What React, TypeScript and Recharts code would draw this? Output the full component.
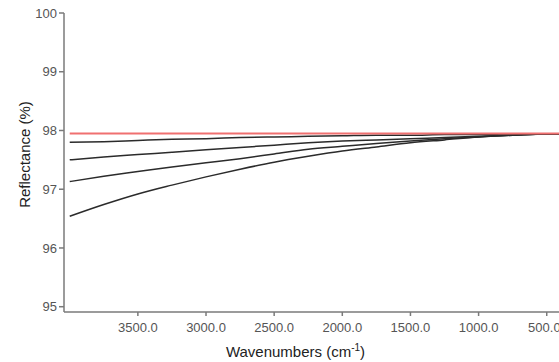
import React from 'react';
import { LineChart, Line, XAxis, YAxis, Label } from 'recharts';

const wavenumbers = [4000, 3750, 3500, 3250, 3000, 2750, 2500, 2250, 2000, 1750, 1500, 1250, 1000, 750, 500, 410];
const reference = [97.95, 97.95, 97.95, 97.95, 97.95, 97.95, 97.95, 97.95, 97.95, 97.95, 97.95, 97.95, 97.95, 97.95, 97.95, 97.95];
const sample1 = [97.8, 97.81, 97.83, 97.85, 97.86, 97.88, 97.89, 97.9, 97.91, 97.92, 97.92, 97.93, 97.93, 97.94, 97.94, 97.94];
const sample2 = [97.5, 97.55, 97.59, 97.63, 97.67, 97.71, 97.75, 97.79, 97.82, 97.84, 97.86, 97.88, 97.9, 97.92, 97.94, 97.94];
const sample3 = [97.13, 97.22, 97.3, 97.38, 97.45, 97.52, 97.6, 97.68, 97.73, 97.78, 97.82, 97.86, 97.89, 97.92, 97.94, 97.94];
const sample4 = [96.54, 96.74, 96.92, 97.07, 97.21, 97.34, 97.46, 97.56, 97.65, 97.72, 97.79, 97.84, 97.89, 97.92, 97.94, 97.94];
const xTicks = [3500, 3000, 2500, 2000, 1500, 1000, 500];
const yTicks = [95, 96, 97, 98, 99, 100];

const data = wavenumbers.map((w, i) => ({
  w,
  r: reference[i],
  s1: sample1[i],
  s2: sample2[i],
  s3: sample3[i],
  s4: sample4[i],
}));

const font = '"Liberation Sans", Arial, sans-serif';

const XLabel = (props: any) => {
  const vb = props.viewBox || {};
  const cx = vb.x + vb.width / 2 - 16;
  return (
    <text x={cx} y={357} textAnchor="middle" fontFamily={font} fontSize={15} fill="#222">
      <tspan>Wavenumbers (cm</tspan>
      <tspan dy={-6} fontSize={10}>-1</tspan>
      <tspan dy={6}>)</tspan>
    </text>
  );
};

export default function App() {
  return (
    <div style={{ position: 'absolute', left: 0, top: 0 }}>
      <LineChart width={559} height={362} data={data} margin={{ top: 13, right: 0, bottom: 0, left: 0 }}>
        <XAxis
          dataKey="w"
          type="number"
          domain={[410, 4042]}
          reversed
          allowDataOverflow
          ticks={xTicks}
          tickFormatter={(v: number) => v.toFixed(1)}
          height={50}
          tickSize={4}
          tickMargin={7}
          stroke="#7a7a7a"
          strokeWidth={1.5}
          tick={{ fill: '#555', fontSize: 13, fontFamily: font }}
        >
          <Label content={<XLabel />} />
        </XAxis>
        <YAxis
          type="number"
          domain={[94.91, 100]}
          allowDataOverflow
          ticks={yTicks}
          width={64}
          tickSize={5}
          tickMargin={2}
          stroke="#7a7a7a"
          strokeWidth={1.5}
          tick={{ fill: '#555', fontSize: 13, fontFamily: font }}
        >
          <Label
            value="Reflectance (%)"
            angle={-90}
            position="insideLeft"
            offset={0}
            dx={25}
            dy={-8}
            style={{ fontFamily: font, fontSize: 15, fill: '#222', textAnchor: 'middle' }}
          />
        </YAxis>
        <Line dataKey="s4" stroke="#2b2b2b" strokeWidth={1.5} dot={false} isAnimationActive={false} type="monotone" />
        <Line dataKey="s3" stroke="#2b2b2b" strokeWidth={1.5} dot={false} isAnimationActive={false} type="monotone" />
        <Line dataKey="s2" stroke="#2b2b2b" strokeWidth={1.5} dot={false} isAnimationActive={false} type="monotone" />
        <Line dataKey="s1" stroke="#2b2b2b" strokeWidth={1.5} dot={false} isAnimationActive={false} type="monotone" />
        <Line dataKey="r" stroke="#f07070" strokeWidth={2} dot={false} isAnimationActive={false} type="monotone" />
      </LineChart>
    </div>
  );
}
